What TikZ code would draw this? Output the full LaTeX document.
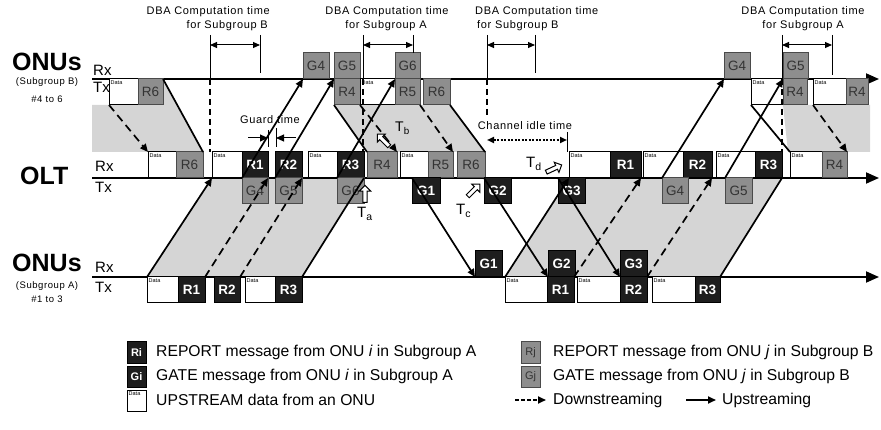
\documentclass[tikz,border=0pt]{standalone}
\usepackage{fontspec}
\setmainfont{Liberation Sans}
\newfontfamily\spaced[LetterSpace=6]{Liberation Sans}
\usepackage{tikz}
\usetikzlibrary{arrows.meta,shapes.arrows,backgrounds}
\definecolor{grpA}{HTML}{1E1E1E}
\definecolor{grpB}{HTML}{8E8E8E}
\definecolor{grpBd}{HTML}{4A4A4A}
\definecolor{shadec}{HTML}{D5D5D5}
\tikzset{
  msg/.style={draw, anchor=north west, minimum width=26pt, minimum height=26pt,
              inner sep=0pt, outer sep=0pt, line width=1pt, font=\fontsize{13.5}{14}\selectfont},
  abox/.style={msg, fill=grpA, text=white, font=\bfseries\fontsize{13.5}{14}\selectfont},
  bbox/.style={msg, fill=grpB, draw=grpBd, text=black!80},
  dbox/.style={msg, fill=white, label={[anchor=north west, inner sep=1.5pt, font=\fontsize{5.5}{5.5}\selectfont]north west:Data}},
  tline/.style={line width=1.8pt, -{Triangle[length=13pt,width=11pt]}},
  arr/.style={line width=1.7pt, -{Triangle[length=8pt,width=7pt]}},
  darr/.style={arr, dash pattern=on 8pt off 5pt},
  bnd/.style={line width=1.7pt},
  dbal/.style={line width=2.6pt, dash pattern=on 6pt off 4pt},
  vtick/.style={line width=0.8pt},
  dspan/.style={line width=1pt, {Triangle[length=7pt,width=6pt]}-{Triangle[length=7pt,width=6pt]}},
  lbl/.style={font=\spaced\fontsize{11}{12}\selectfont, inner sep=0pt},
  tmark/.style={single arrow, draw, fill=white, line width=1pt, minimum height=17pt,
                inner sep=1.6pt, single arrow head extend=3.5pt},
  tlbl/.style={font=\fontsize{15}{15}\selectfont, inner sep=0pt, anchor=base west},
  lgd/.style={font=\fontsize{15.7}{16}\selectfont, anchor=west, inner sep=0pt},
  grp/.style={font=\bfseries\fontsize{25}{25}\selectfont, inner sep=0pt, anchor=base west},
  grplbl/.style={font=\spaced\fontsize{9.5}{10}\selectfont, inner sep=0pt},
  rxtx/.style={font=\fontsize{15}{15}\selectfont, inner sep=0pt, anchor=base west},
}

\begin{document}
\begin{tikzpicture}[x=1pt, y=-1pt]
  \useasboundingbox (0,0) rectangle (881,430);

  % time lines
  \draw[tline] (92,79) -- (879,79);
  \draw[tline] (92,178) -- (879,178);
  \draw[tline] (92,277) -- (879,277);

  \node[grp] (onuB) at (12,71) {ONUs};
  \node[grplbl] (onuBs) at (47,82) {(Subgroup B)};
  \node[grplbl] (onuBn) at (47,99) {\#4 to 6};
  \node[rxtx] (bRx) at (93,76) {Rx};
  \node[rxtx] (bTx) at (93,93) {Tx};
  \node[grp] (olt) at (20,185) {OLT};
  \node[rxtx] (oRx) at (95,172) {Rx};
  \node[rxtx] (oTx) at (95,193) {Tx};
  \node[grp] (onuA) at (12,272) {ONUs};
  \node[grplbl] (onuAs) at (47,286) {(Subgroup A)};
  \node[grplbl] (onuAn) at (47,299) {\#1 to 3};
  \node[rxtx] (aRx) at (95,273) {Rx};
  \node[rxtx] (aTx) at (95,293) {Tx};

  % ONUs B, Rx
  \node[bbox] (bG4) at (303,53) {G4};
  \node[bbox] (bG5) at (334,53) {G5};
  \node[bbox, minimum width=25pt] (bG6) at (395,53) {G6};
  \node[bbox] (bG4x) at (724,53) {G4};
  \node[bbox, minimum width=25pt] (bG5x) at (783,53) {G5};
  % ONUs B, Tx
  \node[dbox, minimum width=29pt] (bD1) at (109,79) {};
  \node[bbox, minimum width=25pt] (bR6) at (138,79) {R6};
  \node[bbox] (bR4) at (334,79) {R4};
  \node[dbox, minimum width=35pt] (bD2) at (360,79) {};
  \node[bbox, minimum width=25pt] (bR5) at (395,79) {R5};
  \node[bbox, minimum width=27pt] (bR6x) at (423,79) {R6};
  \node[dbox, minimum width=32pt] (bD3) at (751,79) {};
  \node[bbox, minimum width=24pt] (bR4x) at (783,79) {R4};
  \node[dbox, minimum width=33pt] (bD4) at (813,79) {};
  \node[bbox, minimum width=22pt] (bR4y) at (846,79) {R4};

  % OLT, Rx
  \node[dbox, minimum width=28pt] (oD1) at (148,152) {};
  \node[bbox, minimum width=27pt] (oR6) at (176,152) {R6};
  \node[dbox, minimum width=30pt] (oD2) at (212,152) {};
  \node[abox] (oR1) at (242,152) {R1};
  \node[abox, minimum width=27pt] (oR2) at (275,152) {R2};
  \node[dbox, minimum width=29pt] (oD3) at (308,152) {};
  \node[abox, minimum width=27pt] (oR3) at (337,152) {R3};
  \node[bbox, minimum width=30pt] (oR4) at (367,152) {R4};
  \node[dbox, minimum width=28pt] (oD4) at (400,152) {};
  \node[bbox, minimum width=25pt] (oR5) at (428,152) {R5};
  \node[bbox, minimum width=28pt] (oR6x) at (457,152) {R6};
  \node[dbox, minimum width=41pt] (oD5) at (569,152) {};
  \node[abox, minimum width=31pt] (oR1x) at (610,152) {R1};
  \node[dbox, minimum width=40pt] (oD6) at (643,152) {};
  \node[abox, minimum width=29pt] (oR2x) at (683,152) {R2};
  \node[dbox, minimum width=39pt] (oD7) at (716,152) {};
  \node[abox, minimum width=27pt] (oR3x) at (755,152) {R3};
  \node[dbox, minimum width=32pt] (oD8) at (790,152) {};
  \node[bbox, minimum width=25pt] (oR4x) at (822,152) {R4};
  % OLT, Tx
  \node[bbox] (oG4) at (242,178) {G4};
  \node[bbox, minimum width=27pt] (oG5) at (275,178) {G5};
  \node[bbox, minimum width=27pt] (oG6) at (337,178) {G6};
  \node[abox, minimum width=28pt] (oG1) at (412,178) {G1};
  \node[abox, minimum width=27pt] (oG2) at (484,178) {G2};
  \node[abox, minimum width=27pt] (oG3) at (558,178) {G3};
  \node[bbox] (oG4x) at (662,178) {G4};
  \node[bbox, minimum width=27pt] (oG5x) at (725,178) {G5};

  % ONUs A, Rx
  \node[abox, minimum width=27pt] (aG1) at (475,251) {G1};
  \node[abox, minimum width=27pt] (aG2) at (548,251) {G2};
  \node[abox, minimum width=27pt] (aG3) at (620,251) {G3};
  % ONUs A, Tx
  \node[dbox, minimum width=31pt] (aD1) at (147,277) {};
  \node[abox, minimum width=27pt] (aR1) at (178,277) {R1};
  \node[abox] (aR2) at (214,277) {R2};
  \node[dbox, minimum width=30pt] (aD2) at (245,277) {};
  \node[abox, minimum width=27pt] (aR3) at (275,277) {R3};
  \node[dbox, minimum width=42pt] (aD3) at (505,277) {};
  \node[abox, minimum width=27pt] (aR1x) at (547,277) {R1};
  \node[dbox, minimum width=43pt] (aD4) at (577,277) {};
  \node[abox, minimum width=27pt] (aR2x) at (620,277) {R2};
  \node[dbox, minimum width=43pt] (aD5) at (652,277) {};
  \node[abox, minimum width=25pt] (aR3x) at (695,277) {R3};

  % gates, OLT -> ONUs
  \foreach \g in {G4,G5,G6,G4x,G5x} \draw[arr] (o\g.north west) -- (b\g.south west);
  \foreach \g in {G1,G2,G3} \draw[arr] (o\g.north west) -- (a\g.south west);

  % ONUs A -> OLT
  \draw[arr] (aD1.north west) -- (oD2.south west);
  \draw[bnd] (aR3.north east) -- (oR3.south east);
  \draw[arr] (aD3.north west) -- (oD5.south west);
  \draw[bnd] (aR3x.north east) -- (oR3x.south east);
  \foreach \r in {R1,R2,R1x,R2x} \draw[darr] (a\r.north east) -- (o\r.south east);

  % ONUs B -> OLT
  \draw[darr] (bD1.south west) -- (oD1.north west);
  \draw[bnd] (bR6.north east) -- (oR6.north east);
  \draw[bnd] (bR4.south west) -- (oR4.north west);
  \draw[darr] (bR4.south east) -- (oR4.north east);
  \draw[darr] (bR5.south east) -- (oR5.north east);
  \draw[bnd] (bR6x.south east) -- (oR6x.north east);
  \draw[bnd] (bD3.south west) -- (oD8.north west);
  \draw[darr] (bD4.south west) -- (oR4x.north east);

  % DBA computation windows
  \draw[vtick] (210,35) -- (210,79) (260,35) -- (260,73);
  \draw[dspan] (210,45) -- (260,45);
  \draw[dbal] (210,79) -- (210,152);
  \node[lbl, anchor=base east] at (270,15) {DBA Computation time};
  \node[lbl, anchor=base east] at (268,29) {for Subgroup B};

  \draw[vtick] (363,35) -- (363,79) (413,35) -- (413,53);
  \draw[dspan] (363,45) -- (413,45);
  \draw[dbal] (363,79) -- (363,152);
  \node[lbl, anchor=base] at (387,15) {DBA Computation time};
  \node[lbl, anchor=base] at (386,29) {for Subgroup A};

  \draw[vtick] (487,35) -- (487,79) (535,35) -- (535,73);
  \draw[dspan] (487,45) -- (535,45);
  \draw[dbal] (487,79) -- (487,118);
  \node[lbl, anchor=base west] at (475,15) {DBA Computation time};
  \node[lbl, anchor=base west] at (477,29) {for Subgroup B};

  \draw[vtick] (782,35) -- (782,79) (832,35) -- (832,75);
  \draw[dspan] (782,45) -- (832,45);
  \draw[dbal] (782,79) -- (782,152);
  \node[lbl, anchor=base] at (803,15) {DBA Computation time};
  \node[lbl, anchor=base] at (803,29) {for Subgroup A};

  % guard time, idle time
  \node[lbl] (guard) at (270,120) {Guard time};
  \draw[vtick] (268,130) -- (268,147) (276,128) -- (276,147);
  \draw[arr, line width=1pt] (248,138) -- (268,138);
  \draw[arr, line width=1pt] (296,138) -- (276,138);
  \node[lbl] (idle) at (525,126) {Channel idle time};
  \draw[vtick] (567,132) -- (567,152);
  \draw[dspan, line width=1.8pt, dash pattern=on 2pt off 1.5pt] (487,140) -- (567,140);

  % time marks
  \node[tmark, rotate=90] (ta) at (365,195) {};
  \node[tlbl] at (357,218) {T\textsubscript{a}};
  \node[tmark, rotate=135] (tb) at (384,141) {};
  \node[tlbl, font=\fontsize{14}{14}\selectfont] at (395,132) {T\textsubscript{b}};
  \node[tmark, rotate=45] (tc) at (473,191) {};
  \node[tlbl] at (456,215) {T\textsubscript{c}};
  \node[tmark, rotate=25] (td) at (553,169) {};
  \node[tlbl] at (526,168) {T\textsubscript{d}};

  % legend
  \node[abox, minimum width=19pt, minimum height=21pt, font=\bfseries\fontsize{11}{11}\selectfont] (lgRi) at (127,342) {Ri};
  \node[lgd] at (156,352) {REPORT message from ONU \textit{i} in Subgroup A};
  \node[abox, minimum width=19pt, minimum height=21pt, font=\bfseries\fontsize{11}{11}\selectfont] (lgGi) at (127,366) {Gi};
  \node[lgd] at (156,376) {GATE message from ONU \textit{i} in Subgroup A};
  \node[dbox, minimum width=19pt, minimum height=21pt] (lgD) at (127,390) {};
  \node[lgd] at (156,400) {UPSTREAM data from an ONU};
  \node[bbox, minimum width=19pt, minimum height=21pt, font=\fontsize{11}{11}\selectfont] (lgRj) at (521,342) {Rj};
  \node[lgd] at (553,352) {REPORT message from ONU \textit{j} in Subgroup B};
  \node[bbox, minimum width=19pt, minimum height=21pt, font=\fontsize{11}{11}\selectfont] (lgGj) at (521,366) {Gj};
  \node[lgd] at (553,376) {GATE message from ONU \textit{j} in Subgroup B};
  \coordinate (lgDs) at (515,400);
  \coordinate (lgDe) at (546,400);
  \draw[darr, dash pattern=on 4pt off 2pt] (lgDs) -- (lgDe);
  \node[lgd] at (553,400) {Downstreaming};
  \coordinate (lgUs) at (686,400);
  \coordinate (lgUe) at (716,400);
  \draw[arr] (lgUs) -- (lgUe);
  \node[lgd] at (722,400) {Upstreaming};

  % shaded bursts
  \begin{scope}[on background layer]
    \fill[shadec] (92,105) -- (bR6.south east) -- (bR6.north east) -- (oR6.north east) -- (92,152) -- cycle;
    \fill[shadec] (bR4.south west) -- (bR6x.south east) -- (oR6x.north east) -- (oR4.north west) -- cycle;
    \fill[shadec] (aD1.north west) -- (oD2.south west) -- (oR3.south east) -- (aR3.north east) -- cycle;
    \fill[shadec] (aD3.north west) -- (oD5.south west) -- (oR3x.south east) -- (aR3x.north east) -- cycle;
    \fill[shadec] (783,105) -- (870,105) -- (870,152) -- (788,152) -- cycle;
  \end{scope}
\end{tikzpicture}
\end{document}
